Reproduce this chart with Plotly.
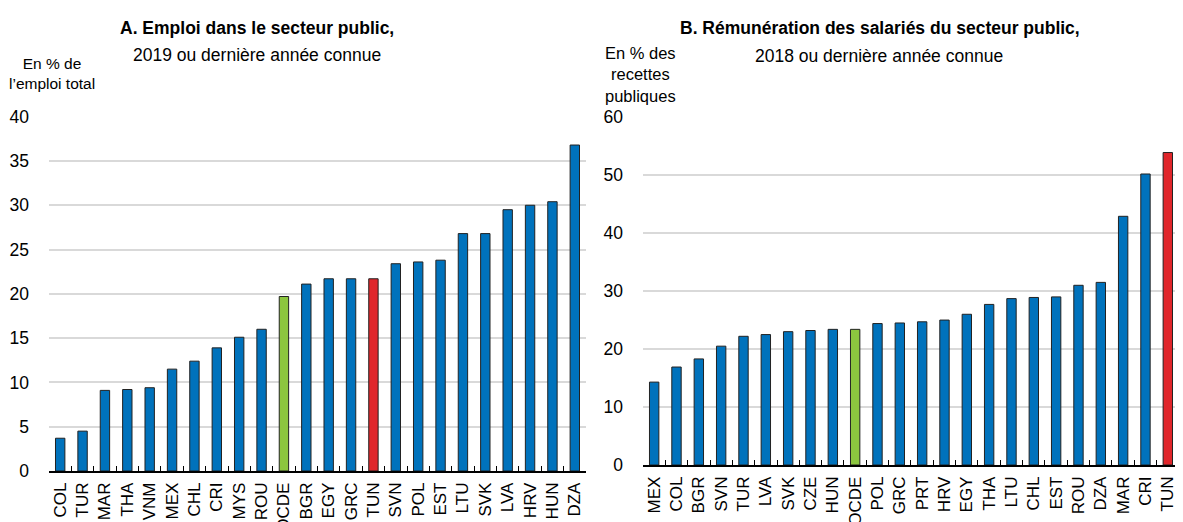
import plotly.graph_objects as go

# Panel A data
cats_a = ["COL", "TUR", "MAR", "THA", "VNM", "MEX", "CHL", "CRI", "MYS", "ROU", "OCDE", "BGR",
          "EGY", "GRC", "TUN", "SVN", "POL", "EST", "LTU", "SVK", "LVA", "HRV", "HUN", "DZA"]
vals_a = [3.7, 4.5, 9.1, 9.2, 9.4, 11.5, 12.4, 13.9, 15.1, 16.0, 19.7, 21.1,
          21.7, 21.7, 21.7, 23.4, 23.6, 23.8, 26.8, 26.8, 29.5, 30.0, 30.4, 36.8]

# Panel B data
cats_b = ["MEX", "COL", "BGR", "SVN", "TUR", "LVA", "SVK", "CZE", "HUN", "OCDE", "POL", "GRC",
          "PRT", "HRV", "EGY", "THA", "LTU", "CHL", "EST", "ROU", "DZA", "MAR", "CRI", "TUN"]
vals_b = [14.3, 16.9, 18.3, 20.5, 22.2, 22.5, 23.0, 23.2, 23.4, 23.4, 24.4, 24.5,
          24.7, 25.0, 26.0, 27.7, 28.7, 28.9, 29.0, 31.0, 31.5, 42.9, 50.2, 53.9]

BLUE = "#0072BC"
GREEN = "#8CC63F"
RED = "#E0262B"
FONT = "Liberation Sans, Arial, sans-serif"


def colors(cats):
    out = []
    for c in cats:
        if c == "OCDE":
            out.append(GREEN)
        elif c == "TUN":
            out.append(RED)
        else:
            out.append(BLUE)
    return out


# the page body has an 8px margin: figure is drawn offset by 8px
OFF = 8
FW, FH = 1183 - OFF, 522 - OFF


def xp(x):
    return (x - OFF) / FW


def yp(y):
    return 1 - (y - OFF) / FH


fig = go.Figure()
fig.add_trace(go.Bar(x=cats_a, y=vals_a, marker=dict(color=colors(cats_a), line=dict(color="#222222", width=1)),
                     width=0.42, xaxis="x", yaxis="y", showlegend=False))
fig.add_trace(go.Bar(x=cats_b, y=vals_b, marker=dict(color=colors(cats_b), line=dict(color="#222222", width=1)),
                     width=0.42, xaxis="x2", yaxis="y2", showlegend=False))

ax_common = dict(showline=True, linecolor="black", linewidth=1.5, ticks="inside", tickson="boundaries",
                 ticklen=5, tickwidth=1.2, tickcolor="black", tickangle=-90, showgrid=False,
                 tickmode="linear", tick0=0, dtick=1, automargin=False,
                 tickfont=dict(family=FONT, size=17, color="black"), ticklabelstandoff=3)
yax_common = dict(showline=False, ticks="", showgrid=True, gridcolor="#d9d9d9", gridwidth=1.5,
                  zeroline=False, automargin=False,
                  tickfont=dict(family=FONT, size=17.5, color="black"), ticklabelstandoff=19)

fig.update_layout(
    width=FW, height=FH,
    margin=dict(l=0, r=0, t=0, b=0),
    paper_bgcolor="white", plot_bgcolor="white",
    font=dict(family=FONT, color="black"),
    bargap=0.5,
    xaxis=dict(domain=[xp(49), xp(586)], anchor="y", range=[-0.5, 23.5], **ax_common),
    yaxis=dict(domain=[yp(471), yp(116.5)], anchor="x", range=[0, 40.02], dtick=5, **yax_common),
    xaxis2=dict(domain=[xp(643), 1.0], anchor="y2", range=[-0.5, 23.68], **ax_common),
    yaxis2=dict(domain=[yp(465), yp(117)], anchor="x2", range=[0, 60.03], dtick=10, **yax_common),
    annotations=[
        dict(text="<b>A. Emploi dans le secteur public,</b>", x=xp(257), y=yp(28), xref="paper", yref="paper",
             xanchor="center", yanchor="middle", showarrow=False, font=dict(size=17.5, family=FONT)),
        dict(text="2019 ou dernière année connue", x=xp(257), y=yp(55), xref="paper", yref="paper",
             xanchor="center", yanchor="middle", showarrow=False, font=dict(size=17.5, family=FONT)),
        dict(text="En % de<br>l’emploi total", x=xp(52), y=yp(73), xref="paper", yref="paper",
             xanchor="center", yanchor="middle", showarrow=False, align="center", font=dict(size=15.5, family=FONT)),
        dict(text="<b>B. Rémunération des salariés du secteur public,</b>", x=xp(880), y=yp(28), xref="paper",
             yref="paper", xanchor="center", yanchor="middle", showarrow=False, font=dict(size=17.5, family=FONT)),
        dict(text="2018 ou dernière année connue", x=xp(879), y=yp(56), xref="paper", yref="paper",
             xanchor="center", yanchor="middle", showarrow=False, font=dict(size=17.5, family=FONT)),
        dict(text="En % des<br>recettes<br>publiques", x=xp(640), y=yp(74), xref="paper", yref="paper",
             xanchor="center", yanchor="middle", showarrow=False, align="center", font=dict(size=16.5, family=FONT)),
    ],
)

fig.write_html("out.html")
